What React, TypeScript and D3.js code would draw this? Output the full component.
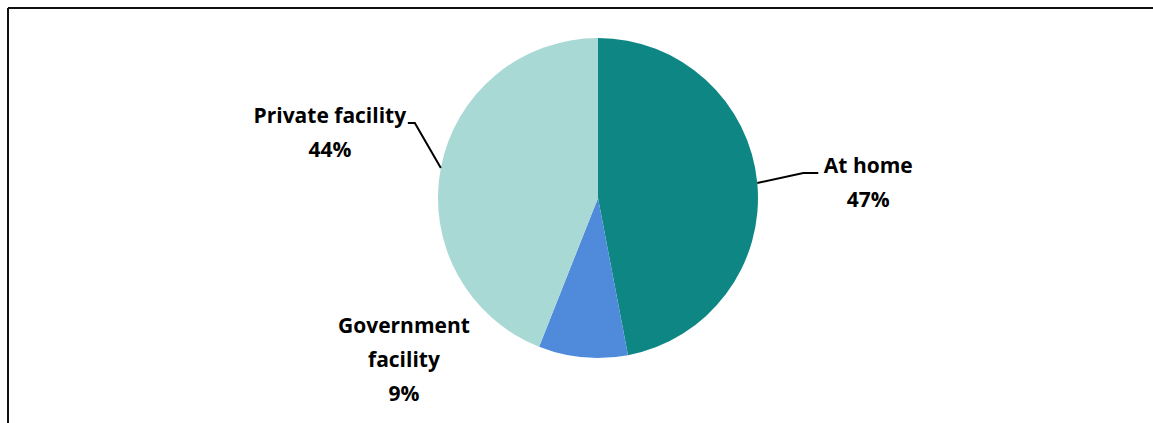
import React from "react";
import * as d3 from "d3";

const categories = ["At home", "Government facility", "Private facility"];
const values = [47, 9, 44];
const colors = ["#0E8784", "#4F8BDA", "#A9D9D5"];
// label lines per category
const labelLines = [["At home", "47%"], ["Government", "facility", "9%"], ["Private facility", "44%"]];
// label placement relative to the slice's outer mid-point: [textDx, firstBaselineDy, elbowDx, elbowDy, endDx]
const labelOffsets = [
  { tx: 111, ty: -10, leader: [[46, -10], [61, -10]] },
  { tx: -179, ty: -24, leader: null },
  { tx: -111, ty: -45, leader: [[-26, -45], [-33, -45]] },
];

const W = 1153;
const H = 423;
const cx = 598;
const cy = 198;
const R = 160;
const lineH = 34;

export default function App() {
  const pie = d3.pie<number>().sort(null).value((d) => d);
  const arcs = pie(values);
  const arc = d3.arc<d3.PieArcDatum<number>>().innerRadius(0).outerRadius(R);
  return (
    <svg width={W} height={H} style={{ position: "absolute", left: 0, top: 0, background: "#fff" }}>
      <rect x={0} y={0} width={W} height={H} fill="#fff" />
      <line x1={8} y1={8} x2={W} y2={8} stroke="#111" strokeWidth={2} />
      <line x1={8} y1={8} x2={8} y2={H} stroke="#111" strokeWidth={2} />
      <g transform={`translate(${cx},${cy})`}>
        {arcs.map((a, i) => (
          <path key={categories[i]} d={arc(a) || ""} fill={colors[i]} />
        ))}
        {arcs.map((a, i) => {
          const mid = (a.startAngle + a.endAngle) / 2;
          const ex = Math.sin(mid) * R;
          const ey = -Math.cos(mid) * R;
          const o = labelOffsets[i];
          const pts: [number, number][] = o.leader
            ? [[ex, ey], ...o.leader.map(([dx, dy]) => [ex + dx, ey + dy] as [number, number])]
            : [];
          return (
            <g key={"l" + i}>
              {pts.length > 0 && (
                <path d={d3.line()(pts) || ""} fill="none" stroke="#000" strokeWidth={2} />
              )}
              <text
                textAnchor="middle"
                fontFamily="'Open Sans', sans-serif"
                fontWeight={700}
                fontSize={21}
                fill="#000"
              >
                {labelLines[i].map((t, k) => (
                  <tspan key={k} x={ex + o.tx} y={ey + o.ty + k * lineH}>
                    {t}
                  </tspan>
                ))}
              </text>
            </g>
          );
        })}
      </g>
    </svg>
  );
}
